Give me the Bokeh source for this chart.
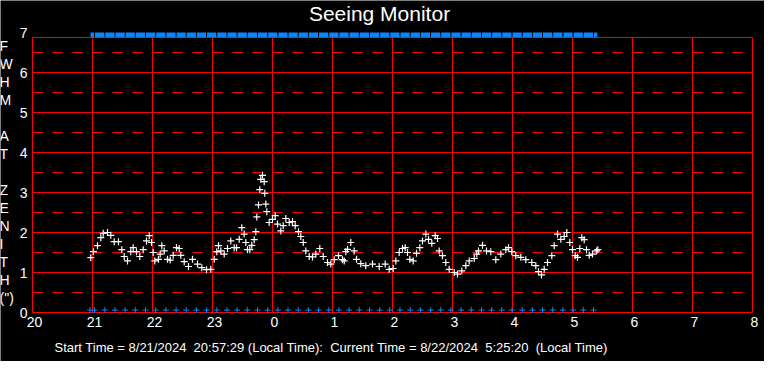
from bokeh.plotting import figure
from bokeh.models import Range1d
from bokeh.core.properties import value
from bokeh.embed import file_html
from bokeh.resources import INLINE

# ---------------- data ----------------
TITLE = "Seeing Monitor"
FOOTER = ("Start Time = 8/21/2024\u00a0\u00a020:57:29 (Local Time):\u00a0\u00a0Current Time = "
          "8/22/2024\u00a0\u00a05:25:20\u00a0\u00a0(Local Time)")
Y_TITLE_LETTERS = ["F", "W", "H", "M", "", "A", "T", "", "Z", "E", "N", "I", "T", "H", "(\")"]

X_TICKS = list(range(20, 33))
X_TICK_LABELS = ["20", "21", "22", "23", "0", "1", "2", "3", "4", "5", "6", "7", "8"]
Y_TICKS = [0, 1, 2, 3, 4, 5, 6, 7]
Y_TICK_LABELS = ["0", "1", "2", "3", "4", "5", "6", "7"]
Y_SOLID = [0, 1, 2, 3, 4, 5, 6]
Y_DASHED = [0.5, 1.5, 2.5, 3.5, 4.5, 5.5, 6.5]

START_MIN = 57.48    # 20:57:29, minutes after 20:00
END_MIN = 565.33     # 05:25:20, minutes after 20:00

# FWHM samples: minutes after 20:00 and FWHM (arcsec)
fwhm_min = [58.3, 61, 65, 68.3, 70.7, 75, 78.3, 81.7, 86, 89.3, 91.7, 95, 98.3, 100.7, 104, 107.3,
            110.7, 114, 116.7, 119, 120.7, 122.3, 126, 127.7, 129.3, 131.7, 135, 137.7, 140.7, 144,
            146.7, 148.3, 151.7, 156, 160, 165, 169.3, 174, 178.3, 181.7, 184.3,
            186, 188.3, 191.7, 195, 198.3, 201.7, 204, 206.7, 209.3, 211.7, 213.3, 215, 217.3, 219.3,
            221.7, 223.3, 224.3, 226, 227.3, 228.3, 230, 231.7, 232.3, 233.3, 234.3, 236.7, 240, 242.7,
            245, 248.3, 250.7, 253.3, 256.7, 260, 262.7, 266, 268.3, 270.7, 273.3, 276.7, 280, 283.3,
            287.3, 290.7, 295, 298.3, 301.7, 306, 310, 313.3,
            311.7, 315, 318.3, 321.7, 324, 328.3, 333.3, 340, 346.7, 352.7, 356.7, 360.7, 363.3, 366.7,
            370, 372.7, 375, 377.3, 380.7, 384, 387.3, 390, 393.3, 396, 399.3, 402.7, 405, 406.7, 410,
            413.3, 416.7, 421.7, 425, 429.3, 433.3, 436.7, 441.7, 444.3,
            446, 450, 454, 458.3, 463.3, 468.3, 473.3, 476, 479.3, 483.3, 488.3, 493.3, 499.3, 503.3,
            506, 509, 511.7, 515, 519.3, 521.7, 525, 528.3, 531.7, 534.3, 537.3, 540, 542.7, 545, 547.3,
            549.3, 551.7, 554, 556.7, 560, 564, 565.3]
fwhm_val = [1.37, 1.52, 1.67, 1.87, 1.98, 2.0, 1.93, 1.77, 1.77, 1.57, 1.4, 1.29, 1.52, 1.62, 1.52, 1.4,
            1.57, 1.79, 1.92, 1.75, 1.5, 1.29, 1.33, 1.46, 1.67, 1.54, 1.33, 1.31, 1.43, 1.62,
            1.6, 1.43, 1.27, 1.15, 1.33, 1.21, 1.12, 1.07, 1.08, 1.33, 1.52,
            1.67, 1.54, 1.46, 1.6, 1.79, 1.62, 1.62, 1.83, 2.12, 1.96, 1.75, 1.57, 1.57, 1.68,
            1.82, 2.02, 2.39, 2.69, 3.07, 3.33, 3.43, 3.27, 2.98, 2.71, 2.52, 2.25, 2.33, 2.42,
            2.21, 2.04, 2.17, 2.35, 2.25, 2.27, 2.17, 2.02, 1.9, 1.75, 1.54, 1.4, 1.39, 1.46,
            1.6, 1.4, 1.25, 1.21, 1.32, 1.42, 1.32, 1.52,
            1.29, 1.58, 1.75, 1.54, 1.33, 1.22, 1.17, 1.21, 1.15, 1.21, 1.08, 1.1, 1.29, 1.5,
            1.6, 1.62, 1.5, 1.33, 1.29, 1.48, 1.62, 1.79, 1.96, 1.83, 1.73, 1.92, 1.85, 1.54, 1.42,
            1.25, 1.08, 1.0, 0.96, 1.04, 1.17, 1.29, 1.35, 1.46,
            1.54, 1.68, 1.54, 1.52, 1.32, 1.46, 1.57, 1.62, 1.52, 1.42, 1.38, 1.32, 1.25, 1.17,
            1.02, 0.94, 1.08, 1.25, 1.42, 1.67, 1.96, 1.83, 1.9, 2.0, 1.75, 1.57, 1.42, 1.38, 1.6,
            1.87, 1.82, 1.57, 1.43, 1.46, 1.54, 1.57]

# blue status samples (minutes after 20:00)
status_min = [57.5, 62.0, 72.3, 82.5, 92.7, 102.8, 113.0, 123.2, 133.4, 143.6, 153.7, 163.9, 174.1,
              184.3, 194.5, 204.6, 214.8, 225.0, 235.2, 245.4, 255.5, 265.7, 275.9, 286.1, 296.3,
              306.4, 316.6, 326.8, 337.0, 347.2, 357.3, 367.5, 377.7, 387.9, 398.1, 408.2, 418.4,
              428.6, 438.8, 449.0, 459.1, 469.3, 479.5, 489.7, 499.9, 510.0, 520.2, 530.4, 540.6,
              550.8, 561.0]

STATUS_LOW = 0.06
STATUS_HIGH = 6.94
FRAME_TOP = 6.875

# ---------------- helpers (page pixel -> data) ----------------
W, H = 764, 361


def hx(page_x):
    return 20 + (page_x - 40) / 60.0


def vy(page_y):
    return (320 - page_y) / 40.0


def to_h(m):
    return 20 + m / 60.0


fx = [to_h(m) for m in fwhm_min]
sx = [to_h(m) for m in status_min]
edges = status_min + [END_MIN]
bar_c = [to_h((edges[i] + edges[i + 1]) / 2.0) for i in range(len(edges) - 1)]
bar_w = [max(edges[i + 1] - edges[i] - 1.0, 0.5) / 60.0 for i in range(len(edges) - 1)]

RED = "#ff0000"
BLUE = "#0a84ff"
FONT = "Liberation Sans"

p = figure(width=W, height=H,
           x_range=Range1d(hx(8), hx(8 + W)),
           y_range=Range1d(vy(8 + H), vy(8)),
           x_axis_type=None, y_axis_type=None,
           output_backend="svg", toolbar_location=None, title=None, min_border=0,
           background_fill_color="black", border_fill_color="black", outline_line_color=None)
p.grid.visible = False

# grid lines
p.segment(x0=[20] * len(Y_SOLID), y0=Y_SOLID, x1=[32] * len(Y_SOLID), y1=Y_SOLID,
          line_color=RED, line_width=1)
p.segment(x0=[20] * len(Y_DASHED), y0=Y_DASHED, x1=[32] * len(Y_DASHED), y1=Y_DASHED,
          line_color=RED, line_width=1, line_dash="10 10")
p.segment(x0=X_TICKS, y0=[0] * len(X_TICKS), x1=X_TICKS, y1=[FRAME_TOP] * len(X_TICKS),
          line_color=RED, line_width=1)
p.segment(x0=[20], y0=[FRAME_TOP], x1=[32], y1=[FRAME_TOP], line_color=RED, line_width=1)

# status markers
p.rect(x=bar_c, y=[STATUS_HIGH] * len(bar_c), width=bar_w, height=0.1175,
       fill_color=BLUE, line_color=None)
p.scatter(sx, [STATUS_LOW] * len(sx), marker="cross", size=6, line_color=BLUE, line_width=1)

# FWHM data
p.scatter(fx, fwhm_val, marker="cross", size=7, line_color="white", line_width=1.2)

# tick labels
p.text(x=X_TICKS, y=[vy(329.5)] * len(X_TICKS), text=X_TICK_LABELS, x_offset=2,
       text_color="white", text_font=value(FONT), text_font_size=value("14px"),
       text_align="center", text_baseline="middle")
p.text(x=[hx(35)] * len(Y_TICKS), y=Y_TICKS, text=Y_TICK_LABELS,
       text_color="white", text_font=value(FONT), text_font_size=value("14px"),
       text_align="right", text_baseline="middle")

# title
p.text(x=[hx(387)], y=[vy(21)], text=[TITLE], text_color="white", text_font=value(FONT),
       text_font_size=value("21px"), text_align="center", text_baseline="middle")

# vertical axis title, letter by letter
ly = [vy(53.5 + 18 * i) for i, ch in enumerate(Y_TITLE_LETTERS) if ch]
lt = [ch for ch in Y_TITLE_LETTERS if ch]
p.text(x=[hx(7)] * len(lt), y=ly, text=lt, text_color="white", text_font=value(FONT),
       text_font_size=value("14px"), text_align="left", text_baseline="middle")

# footer
p.text(x=[hx(62)], y=[vy(354.5)], text=[FOOTER], text_color="white",
       text_font=value(FONT), text_font_size=value("13px"),
       text_align="left", text_baseline="middle")

open("out.html", "w").write(file_html(p, INLINE))
